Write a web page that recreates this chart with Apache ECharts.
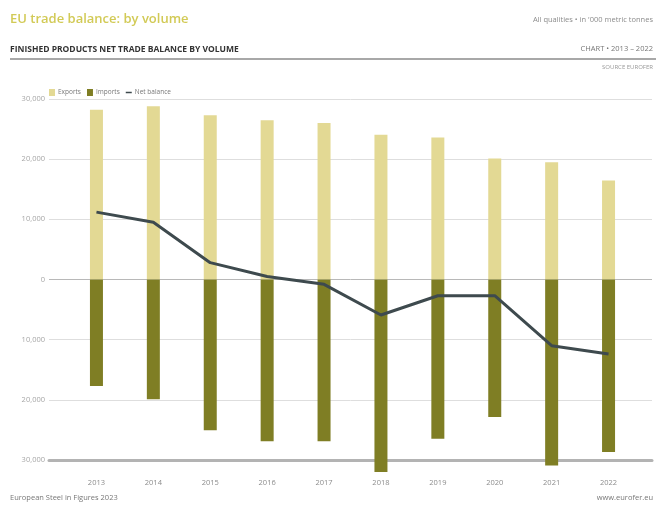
<!DOCTYPE html>
<html>
<head>
<meta charset="utf-8">
<script src="https://cdn.jsdelivr.net/npm/echarts@6/dist/echarts.min.js"></script>
<style>
  html, body { margin: 0; padding: 0; background: #fff; }
  #chart { width: 656px; height: 505px; }
</style>
</head>
<body>
<div id="chart"></div>
<script>
// Finished steel products, EU net trade balance by volume ('000 t)
const years = ['2013', '2014', '2015', '2016', '2017', '2018', '2019', '2020', '2021', '2022'];
const exportsData = [28200, 28800, 27300, 26450, 26000, 24050, 23600, 20100, 19500, 16450];
const importsData = [-17700, -19900, -25050, -26900, -26900, -32000, -26450, -22850, -30900, -28650];
const netBalance = [11200, 9500, 2800, 500, -800, -5900, -2700, -2700, -11000, -12400];
const yTicks = { min: -30000, max: 30000, interval: 10000 };

const FONT = '"Open Sans", "DejaVu Sans", sans-serif';
const GREY = '#8c8c8c';

const fmt = v => Math.abs(v).toLocaleString('en-US');

const chart = echarts.init(document.getElementById('chart'), null, { renderer: 'canvas' });

chart.setOption({
  backgroundColor: '#fff',
  animation: false,
  textStyle: { fontFamily: FONT },
  grid: [
    // background grid: value labels and horizontal rules
    { left: 49, right: 4, top: 99, bottom: 45 },
    // bar/line plot area
    { left: 68, right: 19, top: 99, bottom: 45 }
  ],
  xAxis: [
    {
      gridIndex: 0, type: 'value', min: 0, max: 1,
      axisLabel: { show: false }, axisTick: { show: false }, splitLine: { show: false },
      axisLine: { show: true, onZero: false, lineStyle: { color: '#b3b3b3', width: 3 } }
    },
    {
      gridIndex: 1, type: 'category', data: years,
      axisLine: { show: false }, axisTick: { show: false },
      axisLabel: { color: GREY, fontSize: 7.5, margin: 19, fontFamily: FONT }
    }
  ],
  yAxis: [
    {
      gridIndex: 0, type: 'value', min: yTicks.min, max: yTicks.max, interval: yTicks.interval,
      axisLine: { show: false }, axisTick: { show: false },
      axisLabel: { color: '#a6a6a6', fontSize: 7.5, margin: 4, formatter: fmt, fontFamily: FONT },
      splitLine: {
        show: true,
        lineStyle: { color: ['#b3b3b3', '#dedede', '#dedede', '#b8b8b8', '#dedede', '#dedede', '#dedede'], width: 1 }
      }
    },
    {
      gridIndex: 1, type: 'value', min: yTicks.min, max: yTicks.max, interval: yTicks.interval,
      show: false, splitLine: { show: false }
    }
  ],
  legend: {
    left: 44, top: 84, itemGap: 6, itemWidth: 6, itemHeight: 7,
    textStyle: { color: '#777', fontSize: 6.5, fontFamily: FONT, padding: [0, 0, 0, -2] },
    data: [
      { name: 'Exports', icon: 'rect' },
      { name: 'Imports', icon: 'rect' },
      { name: 'Net balance', icon: 'path://M0,4 L12,4 L12,7 L0,7 Z' }
    ]
  },
  series: [
    {
      name: 'Exports', type: 'bar', xAxisIndex: 1, yAxisIndex: 1, stack: 'trade',
      barWidth: 13, clip: false, data: exportsData,
      itemStyle: { color: '#e3d994' }
    },
    {
      name: 'Imports', type: 'bar', xAxisIndex: 1, yAxisIndex: 1, stack: 'trade',
      barWidth: 13, clip: false, data: importsData,
      itemStyle: { color: '#7f7e24' }
    },
    {
      name: 'Net balance', type: 'line', xAxisIndex: 1, yAxisIndex: 1,
      data: netBalance, symbol: 'none', z: 5,
      lineStyle: { color: '#3e4a4e', width: 3 },
      itemStyle: { color: '#3e4a4e' }
    }
  ],
  graphic: [
    { type: 'text', left: 10, top: 13, style: { text: 'EU trade balance: by volume', fill: '#d2ca56', font: '600 13px ' + FONT } },
    { type: 'text', right: 3, top: 16, style: { text: "All qualities • in '000 metric tonnes", fill: GREY, font: '7.5px ' + FONT } },
    { type: 'text', left: 10, top: 45, style: { text: 'FINISHED PRODUCTS NET TRADE BALANCE BY VOLUME', fill: '#333', font: 'bold 8.5px ' + FONT } },
    { type: 'text', right: 3, top: 45, style: { text: 'CHART • 2013 – 2022', fill: '#777', font: '7.5px ' + FONT } },
    { type: 'rect', shape: { x: 10, y: 58, width: 646, height: 2 }, style: { fill: '#a8a8a8' } },
    { type: 'text', right: 3, top: 64, style: { text: 'SOURCE EUROFER', fill: '#999', font: '6px ' + FONT } },
    { type: 'text', left: 10, top: 494, style: { text: 'European Steel in Figures 2023', fill: '#777', font: '7.5px ' + FONT } },
    { type: 'text', right: 3, top: 494, style: { text: 'www.eurofer.eu', fill: '#777', font: '7.5px ' + FONT } }
  ]
});
</script>
</body>
</html>
